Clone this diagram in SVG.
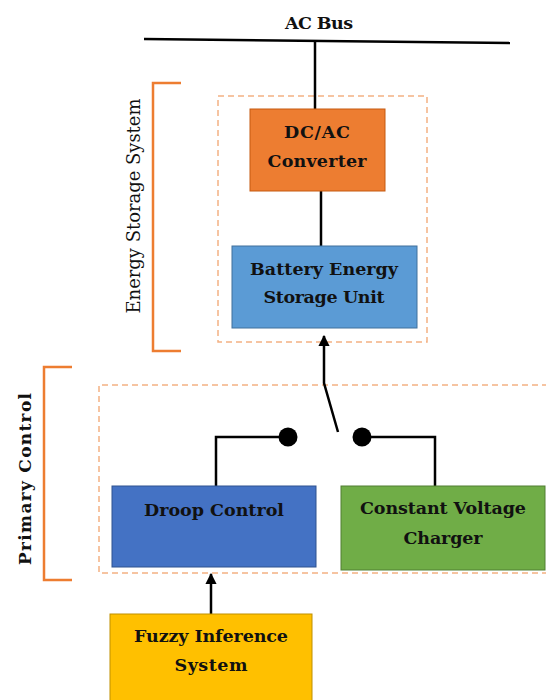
<svg xmlns="http://www.w3.org/2000/svg" width="546" height="700" viewBox="0 0 546 700">
<defs>
<style>
.t{font-family:"DejaVu Serif","Liberation Serif",serif;font-weight:bold;font-size:17.5px;fill:#111;text-anchor:middle}
.dash{fill:none;stroke:#F4B183;stroke-width:1.5;stroke-dasharray:6 4}
.br{fill:none;stroke:#ED7D31;stroke-width:2.5}
.ln{fill:none;stroke:#000;stroke-width:2.5}
</style>
<marker id="ah" viewBox="0 0 10 10" refX="9" refY="5" markerWidth="4.5" markerHeight="4.5" orient="auto-start-reverse" markerUnits="strokeWidth">
<path d="M0,0 L10,5 L0,10 z" fill="#000"/>
</marker>
</defs>
<rect width="546" height="700" fill="#fff"/>

<g id="ac-bus">
<line x1="144" y1="39" x2="510" y2="43" stroke="#000" stroke-width="2.5"/>
<text class="t" x="319" y="29" textLength="68">AC Bus</text>
</g>

<g id="ess-group">
<rect class="dash" x="218" y="96" width="209" height="246"/>
<path class="br" d="M181,83 H153 V351 H181"/>
<text x="0" y="0" transform="translate(140,206) rotate(-90)" font-family="DejaVu Serif,Liberation Serif,serif" font-size="18" text-anchor="middle" fill="#111" textLength="215">Energy Storage System</text>
</g>

<g id="primary-group">
<path class="dash" d="M548,385 H99 V573 H548"/>
<path class="br" d="M72,367 H44 V580 H72"/>
<text x="0" y="0" transform="translate(31,479) rotate(-90)" font-family="DejaVu Serif,Liberation Serif,serif" font-weight="bold" font-size="17" text-anchor="middle" fill="#111" textLength="172">Primary Control</text>
</g>

<g id="connectors">
<line class="ln" x1="315" y1="41" x2="315" y2="109"/>
<line class="ln" x1="321" y1="191" x2="321" y2="246"/>
<path class="ln" d="M338,432 L324,383 L324,336" marker-end="url(#ah)"/>
<path class="ln" d="M288,437 H216 V486"/>
<path class="ln" d="M362,437 H435 V486"/>
<circle cx="288" cy="437" r="9.5" fill="#000"/>
<circle cx="362" cy="437" r="9.5" fill="#000"/>
<line class="ln" x1="211" y1="614" x2="211" y2="574" marker-end="url(#ah)"/>
</g>

<g id="dcac">
<rect x="250" y="109" width="135" height="82" fill="#ED7D31" stroke="#C55A11" stroke-width="1"/>
<text class="t" x="317" y="138" textLength="66">DC/AC</text>
<text class="t" x="317" y="167" textLength="99">Converter</text>
</g>

<g id="battery">
<rect x="232" y="246" width="185" height="82" fill="#5B9BD5" stroke="#41719C" stroke-width="1"/>
<text class="t" x="324" y="275" textLength="148">Battery Energy</text>
<text class="t" x="324" y="303" textLength="121">Storage Unit</text>
</g>

<g id="droop">
<rect x="112" y="486" width="204" height="81" fill="#4472C4" stroke="#2F528F" stroke-width="1"/>
<text class="t" x="214" y="516" textLength="140">Droop Control</text>
</g>

<g id="cvc">
<rect x="341" y="486" width="204" height="84" fill="#70AD47" stroke="#507E32" stroke-width="1"/>
<text class="t" x="443" y="514" textLength="166">Constant Voltage</text>
<text class="t" x="443" y="544" textLength="79">Charger</text>
</g>

<g id="fuzzy">
<rect x="110" y="614" width="202" height="92" fill="#FFC000" stroke="#BF9000" stroke-width="1"/>
<text class="t" x="211" y="642" textLength="154">Fuzzy Inference</text>
<text class="t" x="211" y="671" textLength="73">System</text>
</g>
</svg>
